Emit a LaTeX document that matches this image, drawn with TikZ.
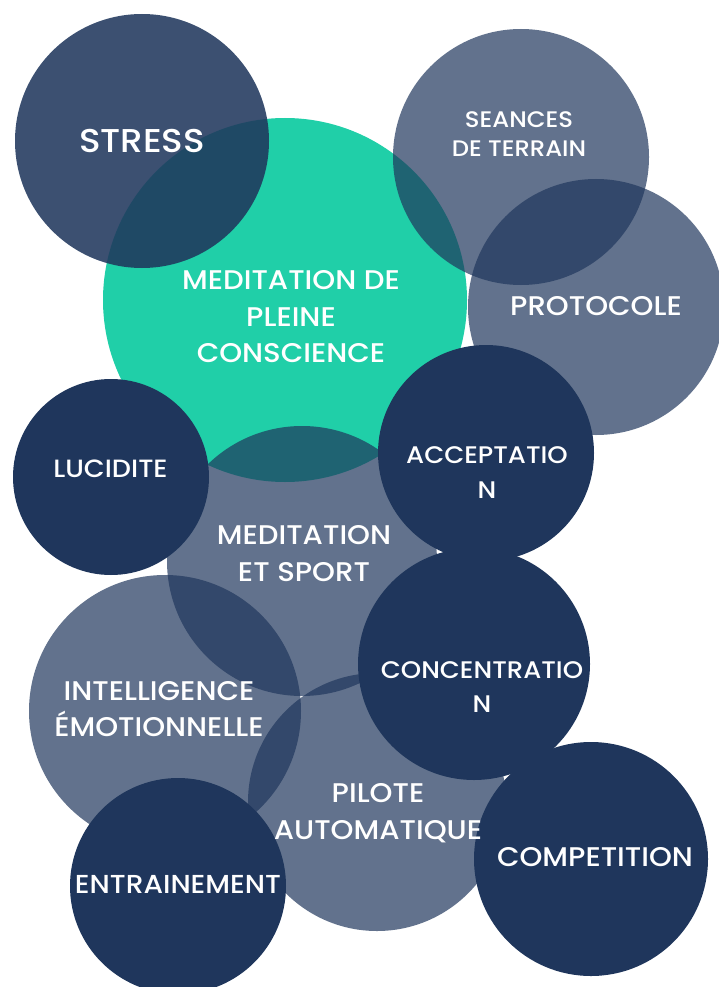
\documentclass[tikz,border=0pt]{standalone}
\usepackage{fontspec}
\setmainfont{Poppins}[UprightFont={* Medium}, FakeStretch=1.08]
\definecolor{navy}{HTML}{1F365C}
\definecolor{teal}{HTML}{20CFA8}
\tikzset{
  bub/.style={circle, draw=none, inner sep=0pt, minimum size=#1},
  navybub/.style={bub=#1, fill=navy},
  slatebub/.style={bub=#1, fill=navy, fill opacity=0.7},
  lbl/.style 2 args={text=white, align=center, inner sep=0pt, font=\fontsize{#1}{#2}\selectfont},
}
\begin{document}
\begin{tikzpicture}[x=1pt,y=-1pt]
\useasboundingbox (0,0) rectangle (719,987);
% circles
\node[bub=364pt, fill=teal] (cmed) at (285,300) {};
\node[bub=254pt, fill=navy, fill opacity=0.87] (cstress) at (142,141) {};
\node[slatebub=256pt] (cseances) at (521,157) {};
\node[slatebub=256pt] (cproto) at (596,307) {};
\node[slatebub=270pt] (csport) at (302,561) {};
\node[slatebub=272pt] (cintel) at (165,711) {};
\node[slatebub=258pt] (cpilote) at (377,802) {};
\node[navybub=196pt] (clucid) at (111,477) {};
\node[navybub=216pt] (caccept) at (486,453) {};
\node[navybub=232pt] (cconc) at (474,664) {};
\node[navybub=216pt] (centr) at (178,886) {};
\node[navybub=234pt] (ccomp) at (591,859) {};
% labels
\node[lbl={33}{40}] (tstress) at (142,141) {STRESS};
\node[lbl={27}{36.5}] (tmed) at (291,317) {MEDITATION DE\\PLEINE\\CONSCIENCE};
\node[lbl={22.5}{29}] (tseances) at (519,134) {SEANCES\\DE TERRAIN};
\node[lbl={27}{36}] (tproto) at (596,306) {PROTOCOLE};
\node[lbl={25}{34}] (tlucid) at (110.5,469) {LUCIDITE};
\node[lbl={27}{37}] (tsport) at (304,553.5) {MEDITATION\\ET SPORT};
\node[lbl={24}{35}] (taccept) at (487,472.5) {ACCEPTATIO\\N};
\node[lbl={24}{34}] (tconc) at (482,687) {CONCENTRATIO\\N};
\node[lbl={27}{36}] (tintel) at (159,709) {INTELLIGENCE\\ÉMOTIONNELLE};
\node[lbl={26}{36}] (tentr) at (178,884) {ENTRAINEMENT};
\node[lbl={27}{37}] (tpilote) at (378,813.5) {PILOTE\\AUTOMATIQUE};
\node[lbl={27}{36}] (tcomp) at (595,857) {COMPETITION};
\end{tikzpicture}
\end{document}
